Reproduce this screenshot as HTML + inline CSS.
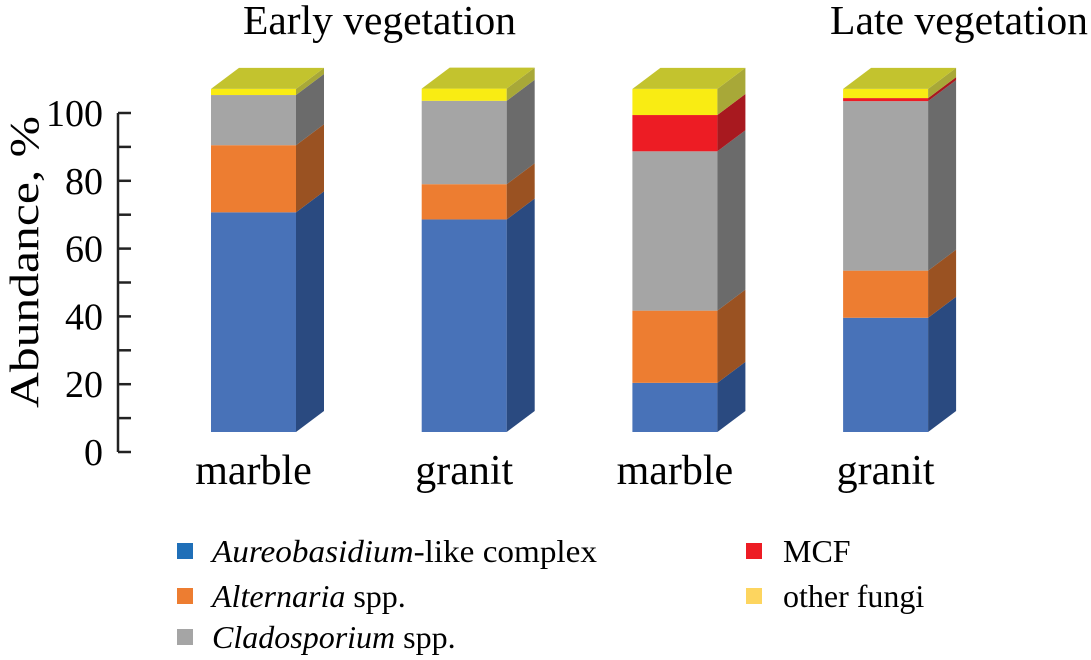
<!DOCTYPE html>
<html><head><meta charset="utf-8"><style>
body{margin:0;background:#fff}
svg{display:block;font-family:"Liberation Serif",serif}
</style></head><body>
<svg id="chart" width="1091" height="660" viewBox="0 0 1091 660">
<text x="243" y="34" font-size="41" textLength="273" lengthAdjust="spacingAndGlyphs">Early vegetation</text>
<text x="830" y="34" font-size="41" textLength="258" lengthAdjust="spacingAndGlyphs">Late vegetation</text>
<text transform="translate(38,408) rotate(-90)" font-size="41" textLength="292" lengthAdjust="spacingAndGlyphs">Abundance, %</text>
<g id="axis"></g>
<g id="bars"></g>
<g id="cats"></g>
<g font-size="32">
<g><rect x="177" y="543" width="16" height="16" fill="#1f6fb8"/><text x="212" y="562" textLength="385" lengthAdjust="spacingAndGlyphs"><tspan font-style="italic">Aureobasidium</tspan>-like complex</text></g>
<g><rect x="177" y="588" width="16" height="16" fill="#ed7d31"/><text x="212" y="607"><tspan font-style="italic">Alternaria</tspan> spp.</text></g>
<g><rect x="177" y="629" width="16" height="16" fill="#a5a5a5"/><text x="212" y="648"><tspan font-style="italic">Cladosporium</tspan> spp.</text></g>
<g><rect x="746" y="543" width="16" height="16" fill="#ed1c24"/><text x="783" y="562">MCF</text></g>
<g><rect x="746" y="588" width="16" height="16" fill="#fdd55f"/><text x="783" y="607">other fungi</text></g>
</g>
</svg>
<script>
const categories = ["marble","granit","marble","granit"];
const aureobasidium = [64.8, 62.7, 14.5, 33.7];
const alternaria = [19.8, 10.4, 21.3, 13.9];
const cladosporium = [14.8, 24.6, 47.0, 50.0];
const mcf = [0, 0, 10.7, 0.9];
const otherFungi = [1.8, 3.6, 7.7, 2.7];
const yTicks = [0, 20, 40, 60, 80, 100];

const NS = "http://www.w3.org/2000/svg";
const axisY = v => 452 - v * 3.39;
const barBase = 432, k = 3.39, dx = 28, dy = 21, bw = 85;
const barX = i => 211 + i * 210.7;
const barVal = v => v * k;
function mk(tag, attrs, parent){const e=document.createElementNS(NS,tag);for(const a in attrs)e.setAttribute(a,attrs[a]);parent.appendChild(e);return e;}

const axis = document.getElementById('axis');
const al = mk('line',{x1:118,x2:118,y1:axisY(100),y2:axisY(0),stroke:'#222','stroke-width':2.5},axis);


for(let v=0; v<=100; v+=10){
  const t = mk('line',{x1:118,x2:131,y1:axisY(v),y2:axisY(v),stroke:'#222','stroke-width':2.5},axis);
  
  
}
yTicks.forEach(v=>{
  const t = mk('text',{x:103,y:axisY(v)+13,'font-size':38,'text-anchor':'end'},axis);
  
  
  t.textContent = v;
});

const series = [
  {name:'aureobasidium', vals:aureobasidium, front:'#4872b8', side:'#2a4a80'},
  {name:'alternaria', vals:alternaria, front:'#ed7d31', side:'#9a5222'},
  {name:'cladosporium', vals:cladosporium, front:'#a5a5a5', side:'#6b6b6b'},
  {name:'mcf', vals:mcf, front:'#ed1c24', side:'#a8191f'},
  {name:'other-fungi', vals:otherFungi, front:'#f9ec13', side:'#a8a838'}
];
const bars = document.getElementById('bars');
const cats = document.getElementById('cats');
categories.forEach((c,i)=>{
  const x0 = barX(i), x1 = x0 + bw;
  let cum = 0;
  series.forEach(s=>{
    const v = s.vals[i];
    if(v<=0) return;
    const yb = barBase - barVal(cum), yt = barBase - barVal(cum+v);
    const r = mk('rect',{x:x0,y:yt,width:bw,height:yb-yt,fill:s.front},bars);
    
    
    const p = mk('polygon',{points:`${x1},${yb} ${x1+dx},${yb-dy} ${x1+dx},${yt-dy} ${x1},${yt}`,fill:s.side},bars);
    
    
    cum += v;
  });
  const yt = barBase - barVal(cum);
  const top = mk('polygon',{points:`${x0},${yt} ${x1},${yt} ${x1+dx},${yt-dy} ${x0+dx},${yt-dy}`,fill:'#c3c32e'},bars);
  
  
  const t = mk('text',{x:x0+bw/2,y:484,'font-size':42,'text-anchor':'middle'},cats);
  
  
  t.textContent = c;
});
</script>
</body></html>
